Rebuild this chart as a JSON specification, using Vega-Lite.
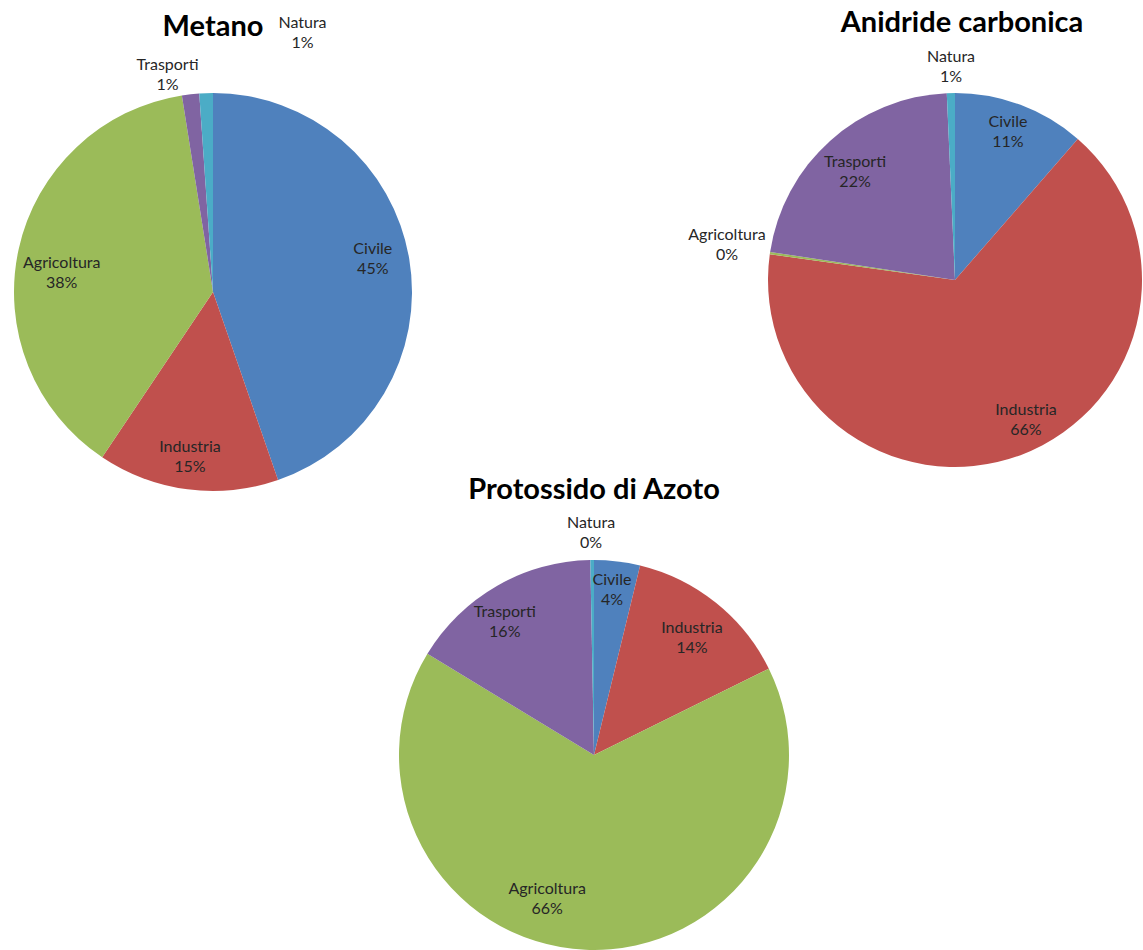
{
  "$schema": "https://vega.github.io/schema/vega-lite/v6.json",
  "background": "white",
  "padding": {"left": 14, "top": 9, "right": 0, "bottom": 0},
  "config": {
    "view": {"stroke": null},
    "title": {"font": "Lato", "fontSize": 29, "fontWeight": "bold", "color": "#000000", "baseline": "alphabetic", "anchor": "middle"},
    "text": {"font": "Lato", "fontSize": 16, "color": "#262626", "baseline": "middle", "align": "center"}
  },
  "datasets": {
    "d": [
      {"chart": "Metano", "cat": "Civile", "k": 1, "value": 0.447},
      {"chart": "Metano", "cat": "Industria", "k": 2, "value": 0.147},
      {"chart": "Metano", "cat": "Agricoltura", "k": 3, "value": 0.381},
      {"chart": "Metano", "cat": "Trasporti", "k": 4, "value": 0.014},
      {"chart": "Metano", "cat": "Natura", "k": 5, "value": 0.011},
      {"chart": "Anidride carbonica", "cat": "Civile", "k": 1, "value": 0.114},
      {"chart": "Anidride carbonica", "cat": "Industria", "k": 2, "value": 0.658},
      {"chart": "Anidride carbonica", "cat": "Agricoltura", "k": 3, "value": 0.002},
      {"chart": "Anidride carbonica", "cat": "Trasporti", "k": 4, "value": 0.219},
      {"chart": "Anidride carbonica", "cat": "Natura", "k": 5, "value": 0.007},
      {"chart": "Protossido di Azoto", "cat": "Civile", "k": 1, "value": 0.038},
      {"chart": "Protossido di Azoto", "cat": "Industria", "k": 2, "value": 0.139},
      {"chart": "Protossido di Azoto", "cat": "Agricoltura", "k": 3, "value": 0.66},
      {"chart": "Protossido di Azoto", "cat": "Trasporti", "k": 4, "value": 0.16},
      {"chart": "Protossido di Azoto", "cat": "Natura", "k": 5, "value": 0.003}
    ]
  },
  "bounds": "full",
  "spacing": -16,
  "vconcat": [
    {
      "bounds": "flush",
      "spacing": 392,
      "hconcat": [
        {
          "width": 330,
          "height": 398,
          "title": {"text": "Metano", "offset": -27},
          "data": {"name": "d"},
          "transform": [{"filter": "datum.chart === 'Metano'"}],
          "encoding": {
            "theta": {"field": "value", "type": "quantitative", "stack": true},
            "order": {"field": "k", "type": "quantitative"},
            "detail": {"field": "cat", "type": "nominal"}
          },
          "layer": [
            {"mark": {"type": "arc", "outerRadius": 199},
             "encoding": {"color": {"field": "cat", "type": "nominal", "legend": null,
               "scale": {"domain": ["Civile", "Industria", "Agricoltura", "Trasporti", "Natura"], "range": ["#4F81BD", "#C0504D", "#9BBB59", "#8064A2", "#4BACC6"]}}}},
            {"mark": {"type": "text", "radius": 160, "dx": 2, "dy": -16.5},
             "encoding": {"text": {"field": "cat", "type": "nominal", "condition": {"test": "datum.cat !== 'Civile'", "value": ""}}}},
            {"mark": {"type": "text", "radius": 160, "dx": 2, "dy": 3.5},
             "encoding": {"text": {"field": "value", "type": "quantitative", "format": ".0%", "condition": {"test": "datum.cat !== 'Civile'", "value": ""}}}},
            {"mark": {"type": "text", "radius": 160, "dx": -2.5, "dy": -4},
             "encoding": {"text": {"field": "cat", "type": "nominal", "condition": {"test": "datum.cat !== 'Industria'", "value": ""}}}},
            {"mark": {"type": "text", "radius": 160, "dx": -2.5, "dy": 16},
             "encoding": {"text": {"field": "value", "type": "quantitative", "format": ".0%", "condition": {"test": "datum.cat !== 'Industria'", "value": ""}}}},
            {"mark": {"type": "text", "radius": 160, "dx": 5, "dy": 5},
             "encoding": {"text": {"field": "cat", "type": "nominal", "condition": {"test": "datum.cat !== 'Agricoltura'", "value": ""}}}},
            {"mark": {"type": "text", "radius": 160, "dx": 5, "dy": 25},
             "encoding": {"text": {"field": "value", "type": "quantitative", "format": ".0%", "condition": {"test": "datum.cat !== 'Agricoltura'", "value": ""}}}},
            {"mark": {"type": "text", "radius": 160, "dx": -27.4, "dy": -68},
             "encoding": {"text": {"field": "cat", "type": "nominal", "condition": {"test": "datum.cat !== 'Trasporti'", "value": ""}}}},
            {"mark": {"type": "text", "radius": 160, "dx": -27.4, "dy": -48},
             "encoding": {"text": {"field": "value", "type": "quantitative", "format": ".0%", "condition": {"test": "datum.cat !== 'Trasporti'", "value": ""}}}},
            {"mark": {"type": "text", "radius": 160, "dx": 95, "dy": -109.4},
             "encoding": {"text": {"field": "cat", "type": "nominal", "condition": {"test": "datum.cat !== 'Natura'", "value": ""}}}},
            {"mark": {"type": "text", "radius": 160, "dx": 95, "dy": -89.4},
             "encoding": {"text": {"field": "value", "type": "quantitative", "format": ".0%", "condition": {"test": "datum.cat !== 'Natura'", "value": ""}}}}
          ]
        },
        {
          "width": 370,
          "height": 374,
          "title": {"text": "Anidride carbonica", "offset": 11, "dx": 7},
          "data": {"name": "d"},
          "transform": [{"filter": "datum.chart === 'Anidride carbonica'"}],
          "encoding": {
            "theta": {"field": "value", "type": "quantitative", "stack": true},
            "order": {"field": "k", "type": "quantitative"},
            "detail": {"field": "cat", "type": "nominal"}
          },
          "layer": [
            {"mark": {"type": "arc", "outerRadius": 187},
             "encoding": {"color": {"field": "cat", "type": "nominal", "legend": null,
               "scale": {"domain": ["Civile", "Industria", "Agricoltura", "Trasporti", "Natura"], "range": ["#4F81BD", "#C0504D", "#9BBB59", "#8064A2", "#4BACC6"]}}}},
            {"mark": {"type": "text", "radius": 150, "dx": 0.4, "dy": -17.8},
             "encoding": {"text": {"field": "cat", "type": "nominal", "condition": {"test": "datum.cat !== 'Civile'", "value": ""}}}},
            {"mark": {"type": "text", "radius": 150, "dx": 0.4, "dy": 2.2},
             "encoding": {"text": {"field": "value", "type": "quantitative", "format": ".0%", "condition": {"test": "datum.cat !== 'Civile'", "value": ""}}}},
            {"mark": {"type": "text", "radius": 150, "dx": 18.4, "dy": -10},
             "encoding": {"text": {"field": "cat", "type": "nominal", "condition": {"test": "datum.cat !== 'Industria'", "value": ""}}}},
            {"mark": {"type": "text", "radius": 150, "dx": 18.4, "dy": 10},
             "encoding": {"text": {"field": "value", "type": "quantitative", "format": ".0%", "condition": {"test": "datum.cat !== 'Industria'", "value": ""}}}},
            {"mark": {"type": "text", "radius": 150, "dx": -79.6, "dy": -22.9},
             "encoding": {"text": {"field": "cat", "type": "nominal", "condition": {"test": "datum.cat !== 'Agricoltura'", "value": ""}}}},
            {"mark": {"type": "text", "radius": 150, "dx": -79.6, "dy": -2.9},
             "encoding": {"text": {"field": "value", "type": "quantitative", "format": ".0%", "condition": {"test": "datum.cat !== 'Agricoltura'", "value": ""}}}},
            {"mark": {"type": "text", "radius": 150, "dx": 0.3, "dy": -6.5},
             "encoding": {"text": {"field": "cat", "type": "nominal", "condition": {"test": "datum.cat !== 'Trasporti'", "value": ""}}}},
            {"mark": {"type": "text", "radius": 150, "dx": 0.3, "dy": 13.5},
             "encoding": {"text": {"field": "value", "type": "quantitative", "format": ".0%", "condition": {"test": "datum.cat !== 'Trasporti'", "value": ""}}}},
            {"mark": {"type": "text", "radius": 150, "dx": -0.7, "dy": -73},
             "encoding": {"text": {"field": "cat", "type": "nominal", "condition": {"test": "datum.cat !== 'Natura'", "value": ""}}}},
            {"mark": {"type": "text", "radius": 150, "dx": -0.7, "dy": -53},
             "encoding": {"text": {"field": "value", "type": "quantitative", "format": ".0%", "condition": {"test": "datum.cat !== 'Natura'", "value": ""}}}}
          ]
        }
      ]
    },
    {
      "bounds": "flush",
      "spacing": 48,
      "hconcat": [
        {
          "width": 300,
          "height": 10,
          "data": {"values": [{"cat": ""}]},
          "mark": {"type": "text", "opacity": 0},
          "encoding": {"text": {"field": "cat", "type": "nominal"}}
        },
        {
          "width": 396,
          "height": 390,
          "title": {"text": "Protossido di Azoto", "offset": 10},
          "data": {"name": "d"},
          "transform": [{"filter": "datum.chart === 'Protossido di Azoto'"}],
          "encoding": {
            "theta": {"field": "value", "type": "quantitative", "stack": true},
            "order": {"field": "k", "type": "quantitative"},
            "detail": {"field": "cat", "type": "nominal"}
          },
          "layer": [
            {"mark": {"type": "arc", "outerRadius": 195},
             "encoding": {"color": {"field": "cat", "type": "nominal", "legend": null,
               "scale": {"domain": ["Civile", "Industria", "Agricoltura", "Trasporti", "Natura"], "range": ["#4F81BD", "#C0504D", "#9BBB59", "#8064A2", "#4BACC6"]}}}},
            {"mark": {"type": "text", "radius": 155, "dx": -0.5, "dy": -20.8},
             "encoding": {"text": {"field": "cat", "type": "nominal", "condition": {"test": "datum.cat !== 'Civile'", "value": ""}}}},
            {"mark": {"type": "text", "radius": 155, "dx": -0.5, "dy": -0.8},
             "encoding": {"text": {"field": "value", "type": "quantitative", "format": ".0%", "condition": {"test": "datum.cat !== 'Civile'", "value": ""}}}},
            {"mark": {"type": "text", "radius": 155, "dx": 1, "dy": -6},
             "encoding": {"text": {"field": "cat", "type": "nominal", "condition": {"test": "datum.cat !== 'Industria'", "value": ""}}}},
            {"mark": {"type": "text", "radius": 155, "dx": 1, "dy": 14},
             "encoding": {"text": {"field": "value", "type": "quantitative", "format": ".0%", "condition": {"test": "datum.cat !== 'Industria'", "value": ""}}}},
            {"mark": {"type": "text", "radius": 155, "dx": -40, "dy": -21},
             "encoding": {"text": {"field": "cat", "type": "nominal", "condition": {"test": "datum.cat !== 'Agricoltura'", "value": ""}}}},
            {"mark": {"type": "text", "radius": 155, "dx": -40, "dy": -1},
             "encoding": {"text": {"field": "value", "type": "quantitative", "format": ".0%", "condition": {"test": "datum.cat !== 'Agricoltura'", "value": ""}}}},
            {"mark": {"type": "text", "radius": 155, "dx": -12, "dy": -8.6},
             "encoding": {"text": {"field": "cat", "type": "nominal", "condition": {"test": "datum.cat !== 'Trasporti'", "value": ""}}}},
            {"mark": {"type": "text", "radius": 155, "dx": -12, "dy": 11.4},
             "encoding": {"text": {"field": "value", "type": "quantitative", "format": ".0%", "condition": {"test": "datum.cat !== 'Trasporti'", "value": ""}}}},
            {"mark": {"type": "text", "radius": 155, "dx": -1.5, "dy": -77.5},
             "encoding": {"text": {"field": "cat", "type": "nominal", "condition": {"test": "datum.cat !== 'Natura'", "value": ""}}}},
            {"mark": {"type": "text", "radius": 155, "dx": -1.5, "dy": -57.5},
             "encoding": {"text": {"field": "value", "type": "quantitative", "format": ".0%", "condition": {"test": "datum.cat !== 'Natura'", "value": ""}}}}
          ]
        }
      ]
    }
  ]
}
